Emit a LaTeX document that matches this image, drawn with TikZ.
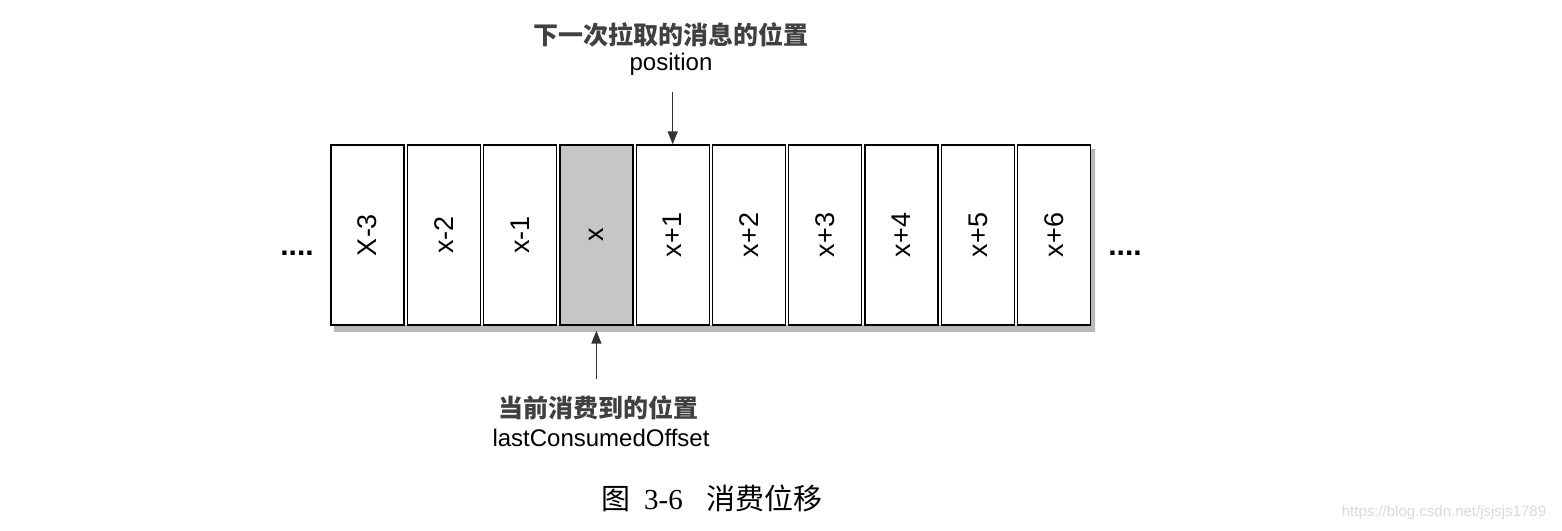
\documentclass[tikz,border=0pt]{standalone}
\usepackage{fontspec}
\setmainfont{Liberation Sans}
\newfontfamily\cjk{Noto Sans CJK SC}
\newfontfamily\capfont{Liberation Serif}
\usetikzlibrary{arrows.meta, positioning}

\begin{document}
\begin{tikzpicture}[x=1pt, y=1pt, >={Triangle[length=13pt, width=10pt]}, font=\fontsize{24}{28}\selectfont,
  cell/.style={draw, line width=1.3pt, fill=white, minimum width=73pt, minimum height=180pt, inner sep=0pt, font=\fontsize{27}{30}\selectfont},
  zhlabel/.style={font=\fontsize{25}{28}\selectfont\cjk\bfseries, text=black!75},
  pointer/.style={->, line width=1.5pt, draw=black!80}]
  \useasboundingbox (0,0) rectangle (1562,530);

  % Shadow under the row
  \fill[gray!55] (334,198) -- (1095,198) -- (1095,381) -- (1091,381) -- (1091,205) -- (334,205) -- cycle;

  % Offsets
  \foreach \i/\lab in {1/X-3, 2/x-2, 3/x-1, 4/x, 5/x+1, 6/x+2, 7/x+3, 8/x+4, 9/x+5, 10/x+6}
    \node[cell] (cell\i) at ({367.5+76.3*(\i-1)}, 295) {\rotatebox{90}{\lab}};
  \node[cell, fill=gray!45] at (cell4) {\rotatebox{90}{x}};

  \node[font=\fontsize{30}{30}\selectfont\bfseries] (ldots) at (297, 277) {....};
  \node[font=\fontsize{30}{30}\selectfont\bfseries] (rdots) at (1125, 277) {....};

  % Next fetch position
  \node[zhlabel] (nextzh) at (671, 495) {下一次拉取的消息的位置};
  \node (nextpos) at (671, 466) {position};
  \draw[pointer] ([yshift=-13pt]nextpos.south -| cell5) -- (cell5.north);

  % Last consumed position
  \node[zhlabel] (lastzh) at (598, 122) {当前消费到的位置};
  \node (lastpos) at (601, 92) {lastConsumedOffset};
  \draw[pointer] ([yshift=13pt]lastzh.north -| cell4) -- ([yshift=-5pt]cell4.south);

  % Caption
  \node[font=\fontsize{29}{32}\selectfont] (caption) at (712, 32) {{\cjk 图}\hspace{14pt}{\capfont 3-6}\hspace{24pt}{\cjk 消费位移}};
  \node[font=\fontsize{15}{18}\selectfont, text=gray!30] (mark) at (1444, 17) {https://blog.csdn.net/jsjsjs1789};
\end{tikzpicture}
\end{document}
